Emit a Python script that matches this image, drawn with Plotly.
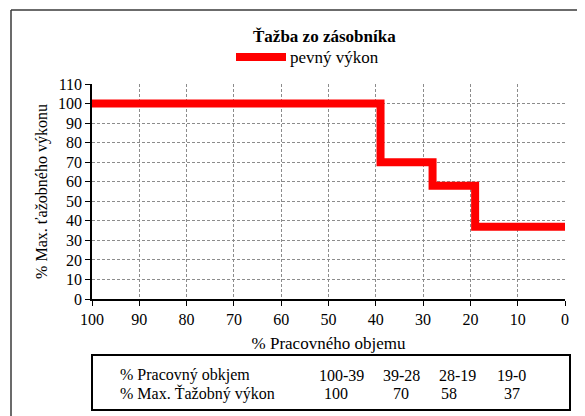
import plotly.graph_objects as go

# ---- data ----
volume_bounds = [100, 39, 28, 19, 0]          # % Pracovného objemu (step boundaries)
max_output = [100, 70, 58, 37]                 # % Max. ťažobného výkonu per segment
range_labels = ["100-39", "39-28", "28-19", "19-0"]
x_ticks = [100, 90, 80, 70, 60, 50, 40, 30, 20, 10, 0]
y_ticks = [0, 10, 20, 30, 40, 50, 60, 70, 80, 90, 100, 110]

title_text = "Ťažba zo zásobníka"
series_name = "pevný výkon"
x_title = "% Pracovného objemu"
y_title = "% Max. ťažobného výkonu"
table_row1 = "% Pracovný obkjem"
table_row2 = "% Max. Ťažobný výkon"

FONT = "Liberation Serif, DejaVu Serif, serif"
OFF = 8  # page body margin
W, H = 585 - OFF, 416 - OFF
# target plot area in page pixels: x 92..565, y 84..299
L, T = 92 - OFF, 84 - OFF
R = W - (565 - OFF)
B = H - (299 - OFF)
PW, PH = W - L - R, H - T - B


def px(x):
    return (x - OFF - L) / PW


def py(y):
    return (H - B - (y - OFF)) / PH


# step line: last value repeated for the final boundary
yvals = max_output + [max_output[-1]]

fig = go.Figure()
fig.add_trace(go.Scatter(
    x=volume_bounds, y=yvals, mode="lines", line_shape="hv",
    line=dict(color="#FF0000", width=8), name=series_name, showlegend=False,
))

grid = dict(showgrid=True, gridcolor="#8c8c8c", gridwidth=1, griddash="3px,2px")
f16 = dict(family=FONT, size=16, color="black")
f17 = dict(family=FONT, size=17, color="black")

fig.update_layout(
    width=W, height=H,
    margin=dict(l=L, r=R, t=T, b=B, autoexpand=False),
    paper_bgcolor="white", plot_bgcolor="white",
    font=f16,
    showlegend=False,
    xaxis=dict(range=[100, 0], tickvals=x_ticks, ticks="outside", ticklen=5,
               tickcolor="black", showline=True, linecolor="black", linewidth=1.5,
               zeroline=False, mirror=False,
               title=dict(text=x_title, font=f17, standoff=10),
               tickfont=f16, **grid),
    yaxis=dict(range=[0, 110], tickvals=y_ticks, ticks="outside", ticklen=5,
               tickcolor="black", showline=True, linecolor="black", linewidth=1.5,
               zeroline=False,
               title=dict(text=y_title, font=f16, standoff=6),
               tickfont=f16, **grid),
)

shapes = []
# outer chart frame (left and top edges)
shapes.append(dict(type="line", xref="paper", yref="paper", x0=px(11), x1=px(11),
                   y0=py(10), y1=py(420), line=dict(color="#3a3a3a", width=1.5)))
shapes.append(dict(type="line", xref="paper", yref="paper", x0=px(11), x1=px(590),
                   y0=py(10), y1=py(10), line=dict(color="#3a3a3a", width=1.5)))
# legend sample
shapes.append(dict(type="line", xref="paper", yref="paper", x0=px(236), x1=px(286),
                   y0=py(57), y1=py(57), line=dict(color="#FF0000", width=8)))
# table box
shapes.append(dict(type="rect", xref="paper", yref="paper", x0=px(92), x1=px(570),
                   y0=py(355), y1=py(410), line=dict(color="black", width=2)))

ann = []
ann.append(dict(text="<b>" + title_text + "</b>", x=px(324), y=py(36), xref="paper",
                yref="paper", showarrow=False, font=f17,
                xanchor="center", yanchor="middle"))
ann.append(dict(text=series_name, x=px(288), y=py(57), xref="paper", yref="paper",
                showarrow=False, font=f17, xanchor="left", yanchor="middle"))
ann.append(dict(text=table_row1, x=px(118), y=py(375), xref="paper", yref="paper",
                showarrow=False, font=f16, xanchor="left", yanchor="middle"))
ann.append(dict(text=table_row2, x=px(118), y=py(393), xref="paper", yref="paper",
                showarrow=False, font=f16, xanchor="left", yanchor="middle"))
col_centers = [341, 401, 457, 511]
val_centers = [336, 401, 449, 512]
for lab, c in zip(range_labels, col_centers):
    ann.append(dict(text=lab, x=px(c), y=py(375), xref="paper", yref="paper",
                    showarrow=False, font=f16, xanchor="center", yanchor="middle"))
for v, c in zip(max_output, val_centers):
    ann.append(dict(text=str(v), x=px(c), y=py(393), xref="paper", yref="paper",
                    showarrow=False, font=f16, xanchor="center", yanchor="middle"))

fig.update_layout(shapes=shapes, annotations=ann)
fig.write_html("out.html")
